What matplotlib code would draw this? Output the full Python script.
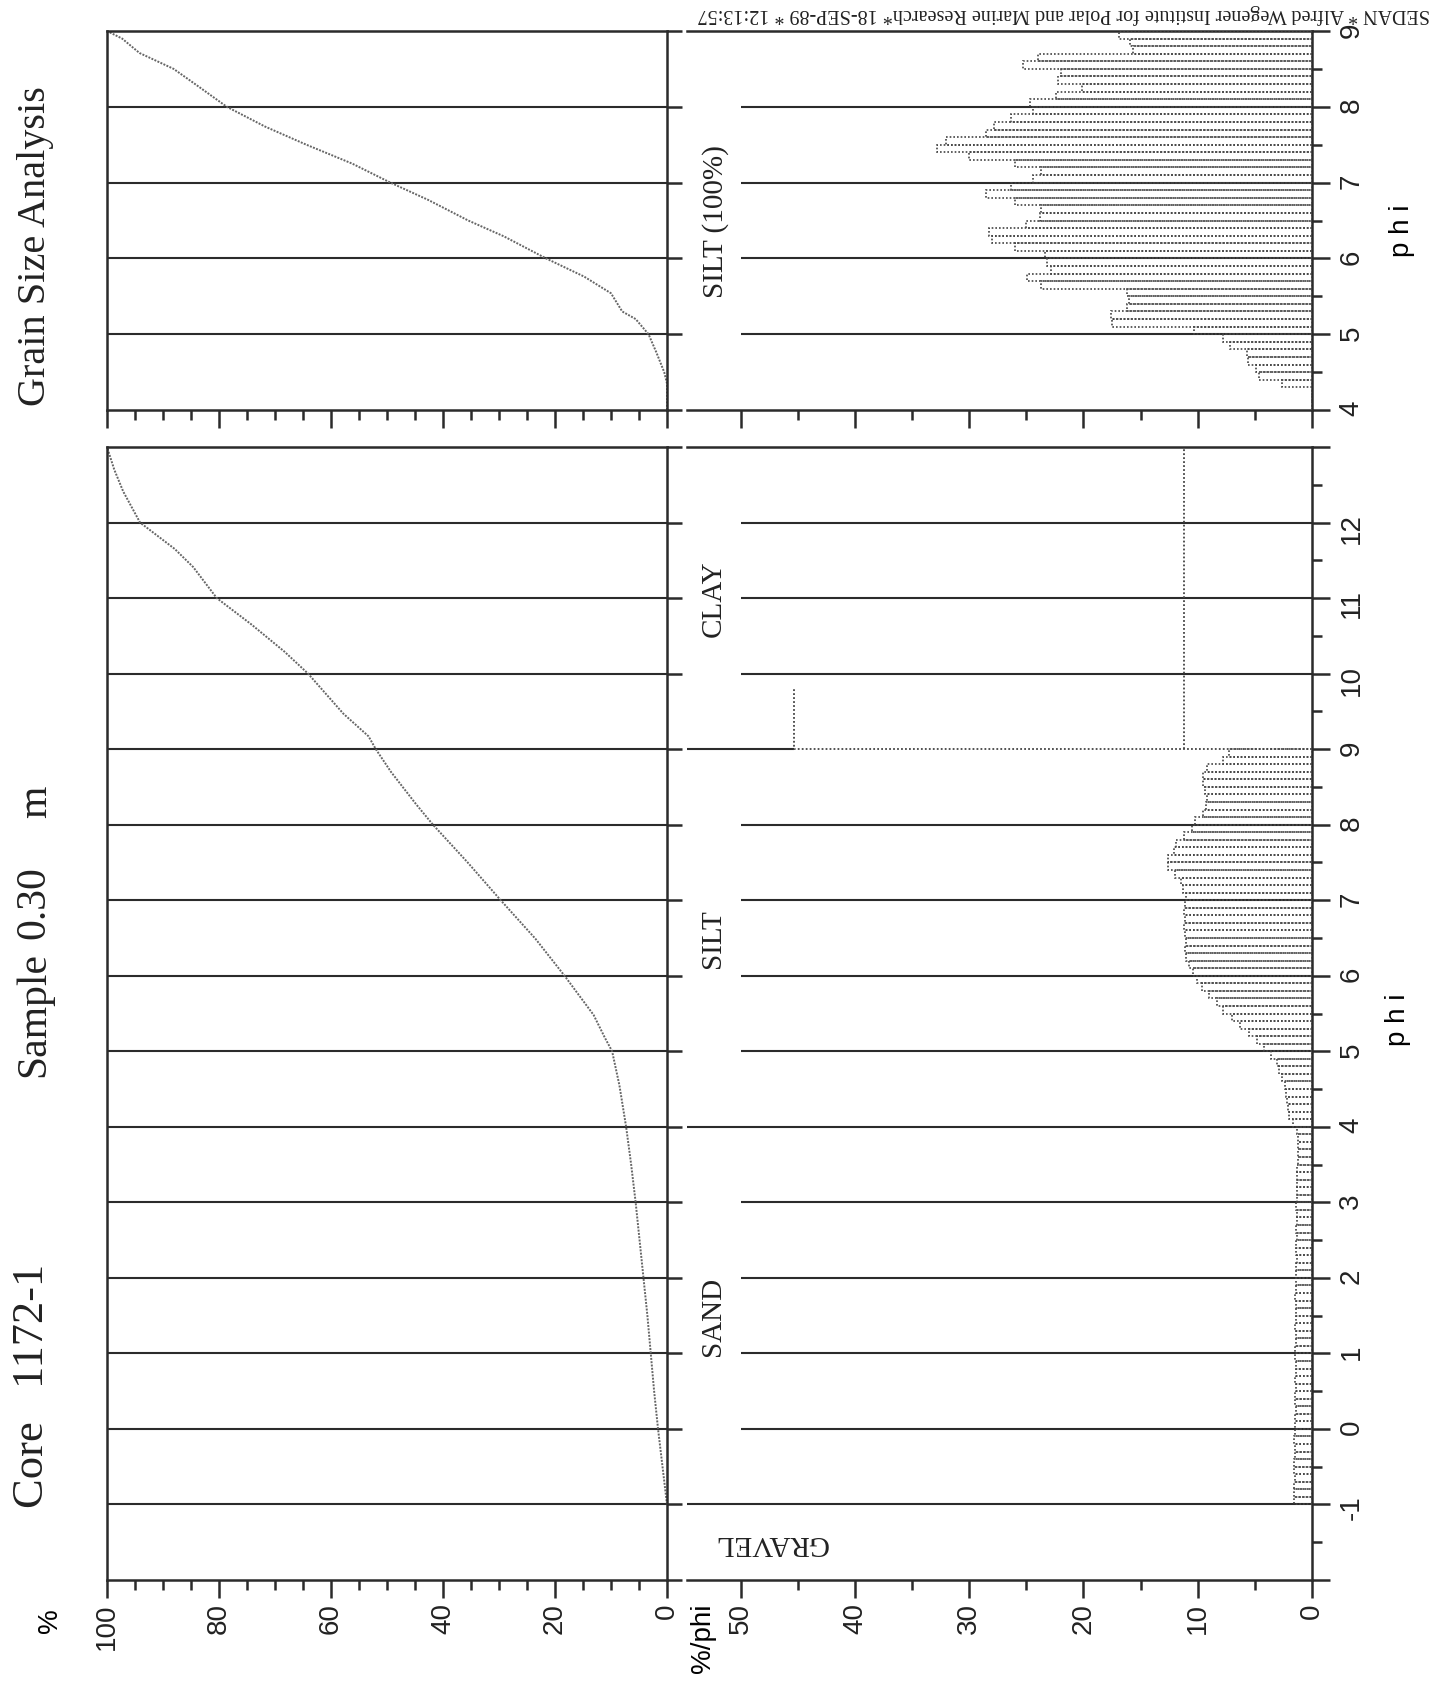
import numpy as np
import matplotlib.pyplot as plt

plt.rcParams['font.family'] = ['Liberation Sans', 'DejaVu Sans']
SERIF = ['Liberation Serif', 'DejaVu Serif']

W, H = 1446, 1683
ink = '#2b2b2b'
dots = '#444444'

# cumulative curve of the whole sample (phi -> cumulative %)
cum_phi = [-1.0, -0.5, 0.0, 0.5, 1.0, 1.5, 2.0, 2.5, 3.0, 3.5, 4.0, 4.55, 5.0, 5.18,
           5.48, 6.0, 6.49, 7.0, 7.5, 8.0, 8.27, 8.7, 9.0, 9.17, 9.47, 10.0, 10.29,
           10.65, 11.0, 11.41, 11.65, 12.0, 12.41, 12.7, 13.0]
cum_pct = [0.0, 0.8, 1.6, 2.3, 2.9, 3.5, 4.2, 4.9, 5.6, 6.4, 7.3, 8.5, 9.8, 11.1,
           13.1, 18.3, 23.5, 29.7, 35.6, 41.8, 44.8, 49.3, 52.0, 53.3, 57.8, 64.1, 68.3,
           74.2, 80.4, 84.6, 87.9, 94.1, 97.1, 98.7, 100.0]

# cumulative curve of the silt fraction only
silt_cum_phi = [4.0, 4.35, 4.5, 4.76, 5.0, 5.2, 5.3, 5.54, 5.76, 6.0, 6.29, 6.5, 6.77,
                7.0, 7.25, 7.5, 7.74, 8.0, 8.27, 8.5, 8.71, 8.9, 9.0]
silt_cum_pct = [0.0, 0.0, 0.5, 1.9, 3.3, 5.6, 8.0, 10.0, 14.8, 21.6, 29.1, 35.5, 42.6,
                49.4, 56.2, 64.4, 71.8, 78.6, 83.7, 88.1, 94.2, 97.3, 100.0]

# histogram, 0.1 phi classes (%/phi)
sand_start = -1.0
sand_vals = [1.6, 1.6, 1.6, 1.5, 1.6, 1.6, 1.5, 1.5, 1.6, 1.5,
             1.5, 1.5, 1.4, 1.5, 1.5, 1.4, 1.5, 1.4, 1.4, 1.5,
             1.5, 1.4, 1.4, 1.5, 1.4, 1.4, 1.4, 1.5, 1.4, 1.4,
             1.4, 1.4, 1.3, 1.4, 1.4, 1.3, 1.4, 1.3, 1.3, 1.4,
             1.3, 1.3, 1.3, 1.3, 1.3, 1.2, 1.2, 1.2, 1.2, 1.3]
silt_start = 4.0
silt_vals = [1.7, 2.0, 2.1, 2.2, 2.3, 2.4, 2.6, 2.9, 3.1, 3.6,
             4.2, 4.8, 5.5, 6.3, 7.0, 7.8, 8.3, 9.0, 9.6, 10.1,
             10.4, 10.8, 11.0, 11.1, 11.0, 11.1, 11.2, 11.1, 11.2, 11.1,
             11.0, 11.3, 11.5, 12.0, 12.6, 12.6, 12.1, 11.9, 11.2, 10.5,
             10.2, 9.5, 9.3, 9.2, 9.4, 9.5, 9.5, 9.2, 7.8, 7.3]
clay_bin = (9.0, 13.0)
clay_val = 11.2
clay_total = 45.3
clay_total_top = 9.8

# silt histogram normalised to 100 %
silt100_vals = [0.0, 0.0, 0.0, 2.6, 4.6, 4.9, 5.6, 5.7, 7.2, 7.8,
                10.3, 17.5, 17.6, 16.2, 16.0, 16.2, 23.7, 24.9, 22.8, 23.2,
                23.4, 26.0, 28.0, 28.3, 25.0, 23.8, 23.7, 26.0, 28.5, 26.3,
                24.4, 23.7, 26.0, 30.0, 32.8, 32.0, 28.5, 27.8, 26.3, 24.4,
                24.7, 22.4, 20.1, 22.2, 22.0, 25.3, 24.0, 15.7, 15.9, 16.9]
bin_w = 0.1

class_bounds = [-1, 4, 9]
class_labels = [('GRAVEL', -1.5, 180), ('SAND', 1.5, 90), ('SILT', 6.5, 90), ('CLAY', 11.0, 90)]


def frac(x0, y0, x1, y1):
    return [x0 / W, 1 - y1 / H, (x1 - x0) / W, (y1 - y0) / H]


def style(ax):
    for s in ax.spines.values():
        s.set_linewidth(1.8)
        s.set_color(ink)
    ax.tick_params(which='both', direction='out', color=ink, labelcolor='#222')
    ax.tick_params(which='major', length=13, width=1.8, labelsize=20)
    ax.tick_params(which='minor', length=7, width=1.8)


fig = plt.figure(figsize=(W / 100, H / 100), dpi=100)
axA = fig.add_axes(frac(107, 448, 667, 1581))
axC = fig.add_axes(frac(107, 32, 667, 411))
axB = fig.add_axes(frac(687, 448, 1312, 1581))
axD = fig.add_axes(frac(687, 32, 1312, 411))

# --- cumulative panels
for ax, lo, hi, xs, ys in [(axA, -2, 13, cum_pct, cum_phi), (axC, 4, 9, silt_cum_pct, silt_cum_phi)]:
    style(ax)
    ax.set_xlim(100, 0)
    ax.set_ylim(lo, hi)
    for p in range(lo + 1, hi):
        ax.axhline(p, color=ink, lw=1.5, zorder=1)
    ax.plot(xs, ys, color='#666', lw=1.4, ls=(0, (1, 0.7)), zorder=2)
    ax.set_xticks(range(0, 101, 20))
    ax.set_xticks(range(0, 101, 5), minor=True)
    ax.set_yticks(range(lo, hi + 1))
    ax.tick_params(axis='y', left=False, right=True, labelleft=False, length=11)
    ax.tick_params(axis='x', labelrotation=90, pad=3)
axC.tick_params(axis='x', labelbottom=False)

# --- histogram panels
for ax, lo, hi in [(axB, -2, 13), (axD, 4, 9)]:
    style(ax)
    ax.set_xlim(54.7, 0)
    ax.set_ylim(lo, hi)
    ax.spines['left'].set_visible(False)
    ax.set_xticks(range(0, 51, 10))
    ax.set_xticks(range(5, 50, 10), minor=True)
    ax.set_yticks(range(lo, hi + 1))
    ax.set_yticks(np.arange(lo + 0.5, hi, 1.0), minor=True)
    ax.tick_params(axis='y', which='both', left=False, right=True, labelleft=False,
                   labelright=True, labelrotation=90, pad=6)
    ax.tick_params(axis='x', labelrotation=90, pad=3)
    for p in range(lo + 1, hi):
        start = 54.7 if p in class_bounds else 50
        end = clay_total if (ax is axB and p == clay_bin[0]) else 0
        ax.hlines(p, start, end, color=ink, lw=1.5, zorder=1)

axB.set_yticklabels([''] + [str(v) for v in range(-1, 13)] + [''])
axD.tick_params(axis='x', labelbottom=False)

bar_kw = dict(height=bin_w, align='edge', fill=False, edgecolor=dots,
              linewidth=1.2, linestyle=(0, (1, 1.2)), zorder=3)
sand_edges = sand_start + bin_w * np.arange(len(sand_vals))
silt_edges = silt_start + bin_w * np.arange(len(silt_vals))
axB.barh(sand_edges, sand_vals, **bar_kw)
axB.barh(silt_edges, silt_vals, **bar_kw)
axD.barh(silt_edges, silt100_vals, **bar_kw)

line_kw = dict(color=dots, lw=1.3, ls=(0, (1, 1.2)), zorder=3)
axB.plot([0, clay_total, clay_total], [clay_bin[0], clay_bin[0], clay_total_top], **line_kw)
axB.plot([clay_val, clay_val], [clay_bin[0], clay_bin[1]], **line_kw)

for name, y, rot in class_labels:
    axB.text(52.4 if rot == 90 else 47.4, y, name, rotation=rot, ha='center', va='center',
             fontsize=21, family=SERIF, color='#222')
axD.text(52.2, 6.5, 'SILT (100%)', rotation=90, ha='center', va='center',
         fontsize=21, family=SERIF, color='#222')


def ftext(x, y, s, **kw):
    fig.text(x / W, 1 - y / H, s, **kw)


ftext(32, 1508, 'Core   1172-1', rotation=90, ha='center', va='bottom', fontsize=32, family=SERIF, color='#222')
ftext(34, 1077, 'Sample', rotation=90, ha='center', va='bottom', fontsize=30, family=SERIF, color='#222')
ftext(34, 939, '0.30', rotation=90, ha='center', va='bottom', fontsize=30, family=SERIF, color='#222')
ftext(36, 818, 'm', rotation=90, ha='center', va='bottom', fontsize=30, family=SERIF, color='#222')
ftext(36, 406, 'Grain Size Analysis', rotation=90, ha='center', va='bottom', fontsize=29, family=SERIF, color='#222')
ftext(1064, 14, 'SEDAN * Alfred Wegener Institute for Polar and Marine Research* 18-SEP-89 * 12:13:57',
      rotation=180, ha='center', va='center', fontsize=14.5, family=SERIF, color='#222')
ftext(50, 1621, '%', rotation=90, ha='center', va='center', fontsize=20)
ftext(703, 1638, '%/phi', rotation=90, ha='center', va='center', fontsize=20)
ftext(1398, 1020, 'p h i', rotation=90, ha='center', va='center', fontsize=20)
ftext(1402, 231, 'p h i', rotation=90, ha='center', va='center', fontsize=20)

fig.savefig('out.png', dpi=100, facecolor='white')
